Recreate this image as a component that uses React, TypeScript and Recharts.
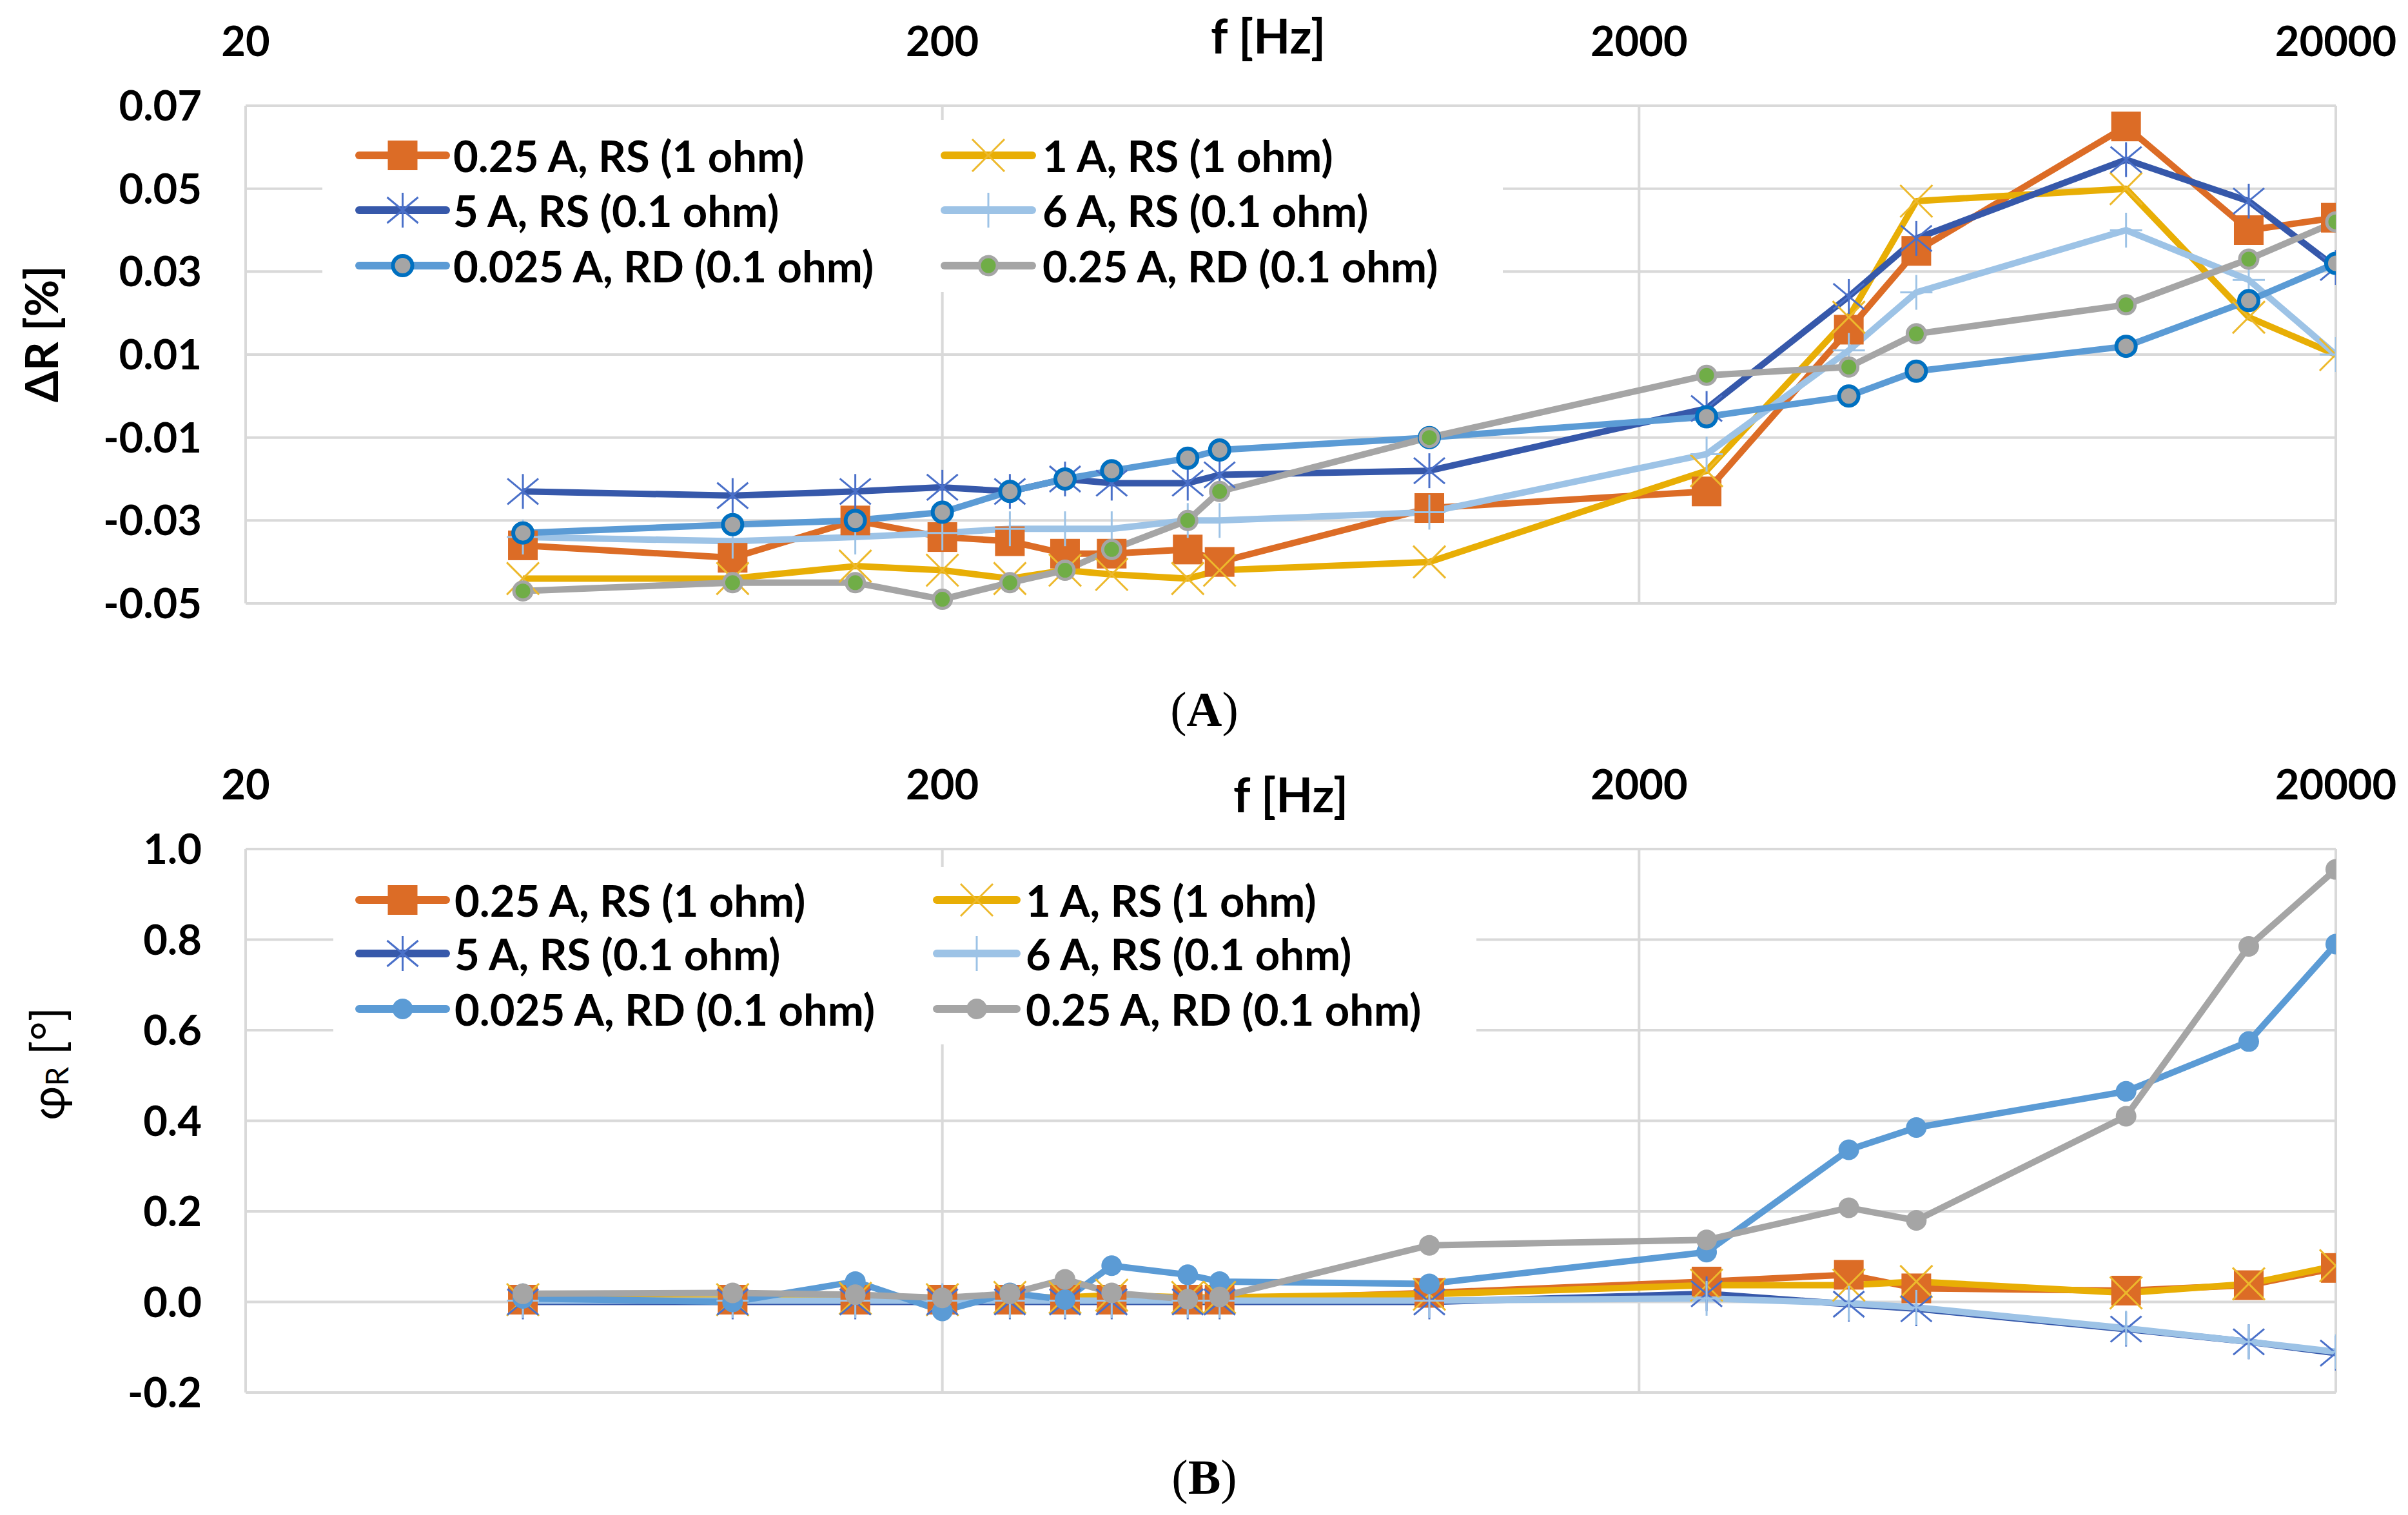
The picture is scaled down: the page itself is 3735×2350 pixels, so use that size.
import React from 'react'
import { LineChart, Line, XAxis, YAxis, CartesianGrid, Label } from 'recharts'

const FONT = 'Lato, "Open Sans", sans-serif'

const freqs = [50, 100, 150, 200, 250, 300, 350, 450, 500, 1000, 2500, 4000, 5000, 10000, 15000, 20000]
const xTicks = [20, 200, 2000, 20000]

const seriesNames = [
  '0.25 A, RS (1 ohm)',
  '1 A, RS (1 ohm)',
  '5 A, RS (0.1 ohm)',
  '6 A, RS (0.1 ohm)',
  '0.025 A, RD (0.1 ohm)',
  '0.25 A, RD (0.1 ohm)',
]

// (A) deltaR [%]
const dR_025A_RS = [-0.036, -0.039, -0.030, -0.034, -0.035, -0.038, -0.038, -0.037, -0.040, -0.027, -0.023, 0.016, 0.035, 0.065, 0.040, 0.043]
const dR_1A_RS = [-0.044, -0.044, -0.041, -0.042, -0.044, -0.042, -0.043, -0.044, -0.042, -0.040, -0.018, 0.019, 0.047, 0.050, 0.019, 0.010]
const dR_5A_RS = [-0.023, -0.024, -0.023, -0.022, -0.023, -0.020, -0.021, -0.021, -0.019, -0.018, -0.003, 0.024, 0.038, 0.057, 0.047, 0.031]
const dR_6A_RS = [-0.034, -0.035, -0.034, -0.033, -0.032, -0.032, -0.032, -0.030, -0.030, -0.028, -0.014, 0.011, 0.025, 0.040, 0.028, 0.010]
const dR_0025A_RD = [-0.033, -0.031, -0.030, -0.028, -0.023, -0.020, -0.018, -0.015, -0.013, -0.010, -0.005, 0.000, 0.006, 0.012, 0.023, 0.032]
const dR_025A_RD = [-0.047, -0.045, -0.045, -0.049, -0.045, -0.042, -0.037, -0.030, -0.023, -0.010, 0.005, 0.007, 0.015, 0.022, 0.033, 0.042]
const dRTicks = [-0.05, -0.03, -0.01, 0.01, 0.03, 0.05, 0.07]

// (B) phiR [deg]
const ph_025A_RS = [0.005, 0.005, 0.005, 0.005, 0.005, 0.005, 0.005, 0.005, 0.005, 0.02, 0.045, 0.06, 0.03, 0.025, 0.037, 0.075]
const ph_1A_RS = [0.005, 0.005, 0.008, 0.005, 0.01, 0.01, 0.015, 0.01, 0.01, 0.017, 0.037, 0.037, 0.045, 0.02, 0.04, 0.08]
const ph_5A_RS = [0.0, 0.0, 0.0, 0.0, 0.0, 0.0, 0.0, 0.0, 0.0, 0.0, 0.018, -0.005, -0.015, -0.06, -0.088, -0.113]
const ph_6A_RS = [0.003, 0.003, 0.003, 0.003, 0.003, 0.003, 0.003, 0.003, 0.003, 0.003, 0.008, -0.003, -0.012, -0.058, -0.088, -0.11]
const ph_0025A_RD = [0.008, 0.0, 0.045, -0.02, 0.02, 0.005, 0.08, 0.06, 0.045, 0.04, 0.11, 0.336, 0.385, 0.465, 0.575, 0.79]
const ph_025A_RD = [0.018, 0.02, 0.016, 0.009, 0.018, 0.05, 0.02, 0.006, 0.011, 0.125, 0.137, 0.208, 0.18, 0.41, 0.785, 0.955]
const phTicks = [-0.2, 0, 0.2, 0.4, 0.6, 0.8, 1.0]

const toRows = (cols: number[][]) =>
  freqs.map((f, i) => {
    const row: Record<string, number> = { f }
    cols.forEach((c, k) => (row[`s${k}`] = c[i]))
    return row
  })

const rowsA = toRows([dR_025A_RS, dR_1A_RS, dR_5A_RS, dR_6A_RS, dR_0025A_RD, dR_025A_RD])
const rowsB = toRows([ph_025A_RS, ph_1A_RS, ph_5A_RS, ph_6A_RS, ph_0025A_RD, ph_025A_RD])

type Marker = (cx: number, cy: number, k: string) => React.ReactElement

const squareMark = (color: string): Marker => (cx, cy, k) => (
  <rect key={k} x={cx - 23} y={cy - 23} width={46} height={46} fill={color} />
)
const xMark = (color: string): Marker => (cx, cy, k) => (
  <g key={k} stroke={color} strokeWidth={3}>
    <line x1={cx - 25} y1={cy - 25} x2={cx + 25} y2={cy + 25} />
    <line x1={cx - 25} y1={cy + 25} x2={cx + 25} y2={cy - 25} />
  </g>
)
const starMark = (color: string): Marker => (cx, cy, k) => (
  <g key={k} stroke={color} strokeWidth={3}>
    <line x1={cx} y1={cy - 27} x2={cx} y2={cy + 27} />
    <line x1={cx - 24} y1={cy - 20} x2={cx + 24} y2={cy + 20} />
    <line x1={cx - 24} y1={cy + 20} x2={cx + 24} y2={cy - 20} />
  </g>
)
const plusMark = (color: string): Marker => (cx, cy, k) => (
  <g key={k} stroke={color} strokeWidth={3}>
    <line x1={cx} y1={cy - 27} x2={cx} y2={cy + 27} />
    <line x1={cx - 25} y1={cy} x2={cx + 25} y2={cy} />
  </g>
)
const circleMark = (fill: string, stroke: string, r: number, sw: number): Marker => (cx, cy, k) => (
  <circle key={k} cx={cx} cy={cy} r={r} fill={fill} stroke={stroke} strokeWidth={sw} />
)

type Style = { color: string; marker: Marker }

const ORANGE = '#DC6C26'
const GOLD = '#E8AE05'
const DARKBLUE = '#3658AA'
const LIGHTBLUE = '#9DC3E6'
const BLUE = '#5B9BD5'
const GRAY = '#A5A5A5'

const stylesA: Style[] = [
  { color: ORANGE, marker: squareMark(ORANGE) },
  { color: GOLD, marker: xMark('#EDB92C') },
  { color: DARKBLUE, marker: starMark('#4A70C9') },
  { color: LIGHTBLUE, marker: plusMark(LIGHTBLUE) },
  { color: BLUE, marker: circleMark(GRAY, '#0070C0', 15, 6) },
  { color: GRAY, marker: circleMark('#70AD47', GRAY, 14, 5) },
]
const stylesB: Style[] = [
  stylesA[0],
  stylesA[1],
  stylesA[2],
  stylesA[3],
  { color: BLUE, marker: circleMark(BLUE, BLUE, 15, 2) },
  { color: GRAY, marker: circleMark(GRAY, GRAY, 15, 2) },
]

type PanelProps = {
  rows: Record<string, number>[]
  styles: Style[]
  height: number
  axisHeight: number
  bottom: number
  yDomain: [number, number]
  yTicks: number[]
  digits: number
  xLabelOffset: number
  xLabelDx: number
  yLabel: React.ReactElement
}

function Panel(p: PanelProps) {
  const tickStyle = { fill: '#000', fontSize: 65, fontWeight: 700, fontFamily: FONT }
  return (
    <LineChart width={3735} height={p.height} data={p.rows} margin={{ top: 0, right: 112, bottom: p.bottom, left: 0 }}>
      <CartesianGrid stroke="#D9D9D9" strokeWidth={4} />
      <XAxis
        dataKey="f"
        type="number"
        scale="log"
        domain={[20, 20000]}
        ticks={xTicks}
        interval={0}
        allowDataOverflow
        orientation="top"
        height={p.axisHeight}
        axisLine={false}
        tickLine={false}
        tickSize={0}
        tickMargin={77}
        tick={tickStyle}
      >
        <Label
          value="f [Hz]"
          position="insideTop"
          offset={p.xLabelOffset}
          dx={p.xLabelDx}
          style={{ fontSize: 74, fontWeight: 700, fill: '#000', fontFamily: FONT }}
        />
      </XAxis>
      <YAxis
        type="number"
        domain={p.yDomain}
        ticks={p.yTicks}
        interval={0}
        width={381}
        axisLine={false}
        tickLine={false}
        tickSize={0}
        tickMargin={68}
        tickFormatter={(v: number) => v.toFixed(p.digits)}
        tick={tickStyle}
      >
        <Label content={() => p.yLabel} />
      </YAxis>
      {p.styles.map((s, k) => (
        <Line
          key={k}
          type="linear"
          dataKey={`s${k}`}
          stroke={s.color}
          strokeWidth={10}
          strokeLinejoin="round"
          dot={(d: any) => s.marker(d.cx, d.cy, `m${k}-${d.index}`)}
          activeDot={false}
          isAnimationActive={false}
        />
      ))}
    </LineChart>
  )
}

type LegendProps = {
  box: [number, number, number, number]
  rowY: number[]
  cols: { x1: number; x2: number; tx: number }[]
  styles: Style[]
}

function LegendBox({ box, rowY, cols, styles }: LegendProps) {
  return (
    <g>
      <rect x={box[0]} y={box[1]} width={box[2]} height={box[3]} fill="#fff" />
      {seriesNames.map((name, i) => {
        const c = cols[i % 2]
        const y = rowY[Math.floor(i / 2)]
        const s = styles[i]
        return (
          <g key={name}>
            <line x1={c.x1} y1={y} x2={c.x2} y2={y} stroke={s.color} strokeWidth={12} strokeLinecap="round" />
            {s.marker((c.x1 + c.x2) / 2, y, `lg${i}`)}
            <text x={c.tx} y={y} dominantBaseline="central" fontSize={67} fontWeight={700} fontFamily={FONT} fill="#000">
              {name}
            </text>
          </g>
        )
      })}
    </g>
  )
}

export default function App() {
  const yLabelA = (
    <text
      x={63}
      y={518}
      transform="rotate(-90 63 518)"
      textAnchor="middle"
      dominantBaseline="central"
      fontSize={70}
      fontWeight={700}
      fontFamily={FONT}
      fill="#000"
    >
      ΔR [%]
    </text>
  )
  const yLabelB = (
    <text
      x={72}
      y={500}
      transform="rotate(-90 72 500)"
      textAnchor="middle"
      dominantBaseline="central"
      fontSize={72}
      fontFamily={FONT}
      fill="#000"
    >
      φ
      <tspan fontSize={48} dy={15}>R</tspan>
      <tspan dy={-15}> [°]</tspan>
    </text>
  )

  return (
    <div style={{ position: 'absolute', left: 0, top: 0, width: 3735, height: 2350, background: '#fff' }}>
      <div style={{ position: 'absolute', left: 0, top: 0 }}>
        <Panel
          rows={rowsA}
          styles={stylesA}
          height={1000}
          axisHeight={164}
          bottom={64}
          yDomain={[-0.05, 0.07]}
          yTicks={dRTicks}
          digits={2}
          xLabelOffset={30}
          xLabelDx={-35}
          yLabel={yLabelA}
        />
      </div>
      <div style={{ position: 'absolute', left: 0, top: 1150 }}>
        <Panel
          rows={rowsB}
          styles={stylesB}
          height={1070}
          axisHeight={167}
          bottom={60}
          yDomain={[-0.2, 1.0]}
          yTicks={phTicks}
          digits={1}
          xLabelOffset={57}
          xLabelDx={0}
          yLabel={yLabelB}
        />
      </div>
      <svg width={3735} height={2350} style={{ position: 'absolute', left: 0, top: 0, pointerEvents: 'none' }}>
        <LegendBox
          box={[500, 186, 1831, 267]}
          rowY={[241, 326, 412]}
          cols={[
            { x1: 557, x2: 692, tx: 703 },
            { x1: 1465, x2: 1601, tx: 1617 },
          ]}
          styles={stylesA}
        />
        <LegendBox
          box={[517, 1345, 1773, 275]}
          rowY={[1396, 1479, 1565]}
          cols={[
            { x1: 557, x2: 692, tx: 705 },
            { x1: 1453, x2: 1577, tx: 1591 },
          ]}
          styles={stylesB}
        />
        <text x={1868} y={1126} textAnchor="middle" fontSize={76} fontFamily='"Liberation Serif", serif' fill="#000">
          (<tspan fontWeight={700}>A</tspan>)
        </text>
        <text x={1868} y={2317} textAnchor="middle" fontSize={76} fontFamily='"Liberation Serif", serif' fill="#000">
          (<tspan fontWeight={700}>B</tspan>)
        </text>
      </svg>
    </div>
  )
}
